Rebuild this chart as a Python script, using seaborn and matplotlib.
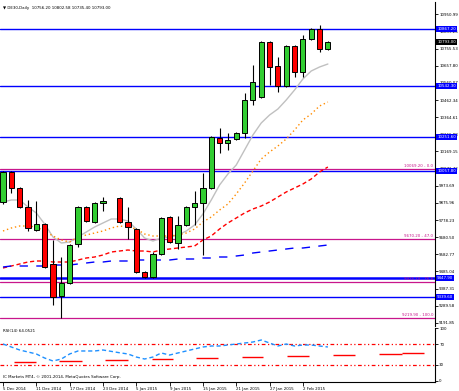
import numpy as np
import pandas as pd
import matplotlib
matplotlib.use("Agg")
import matplotlib.pyplot as plt
import seaborn as sns

sns.set_theme(style="white")
plt.rcParams['font.family'] = ['DejaVu Sans']

# ---------------- data (DE30 daily) ----------------
opens = [9881, 10052, 9961, 9853, 9722, 9756, 9528, 9345, 9419, 9642,
         9853, 9767, 9875, np.nan, 9904, 9767, 9727, 9482, 9454, 9585,
         9796, 9647, 9750, 9853, 9875, 9961, 10246, 10217, 10240, 10274,
         10462, 10480, 10793, 10656, 10542, 10770, 10622, 10810, 10867, 10753]
highs = [10058, 10058, 9967, 9892, 9887, 9762, 9664, 9568, 9642, 9858,
         9858, 9881, 9910, np.nan, 9910, 9853, 9733, 9488, 9596, 9796,
         9801, 9801, 9858, 9944, 10046, 10258, 10303, 10274, 10280, 10502,
         10662, 10799, 10799, 10708, 10776, 10776, 10833, 10873, 10890, 10799]
lows = [9870, 9932, 9847, 9716, 9716, 9505, 9294, 9220, 9413, 9625,
        9767, 9762, 9830, np.nan, 9762, 9670, 9476, 9448, 9448, 9579,
        9647, 9613, 9745, 9750, 9579, 9955, 10160, 10177, 10235, 10246,
        10434, 10474, 10548, 10508, 10536, 10594, 10594, 10805, 10736, 10747]
closes = [10052, 9961, 9853, 9733, 9756, 9511, 9340, 9419, 9636, 9853,
          9773, 9875, 9887, np.nan, 9767, 9739, 9482, 9454, 9585, 9790,
          9653, 9750, 9853, 9875, 9961, 10252, 10217, 10235, 10274, 10462,
          10565, 10793, 10651, 10542, 10770, 10622, 10810, 10867, 10753, 10793]

ma_gray = [9881.1, 9892.5, 9892.5, 9852.6, 9818.4, 9755.7, 9681.6, 9647.4, 9653.1, 9681.6,
           9710.1, 9738.6, 9761.4, 9784.2, 9784.2, 9772.8, 9727.2, 9675.9, 9658.8, 9675.9,
           9681.6, 9693.0, 9715.8, 9750.0, 9812.7, 9892.5, 9978.0, 10040.7, 10092.0, 10177.5,
           10263.0, 10331.4, 10377.0, 10411.2, 10462.5, 10519.5, 10582.2, 10627.8, 10650.6, 10667.7]
ma_orange = [9715.8, 9732.9, 9744.3, 9744.3, 9738.6, 9715.8, 9687.3, 9664.5, 9653.1, 9681.6,
             9693.0, 9704.4, 9715.8, 9732.9, 9744.3, 9738.6, 9727.2, 9698.7, 9687.3, 9687.3,
             9687.3, 9693.0, 9704.4, 9727.2, 9767.1, 9795.6, 9835.5, 9869.7, 9926.7, 9989.4,
             10057.8, 10126.2, 10166.1, 10200.3, 10240.2, 10291.5, 10348.5, 10382.7, 10428.3, 10451.1]
ma_red = [9504.9, 9516.3, 9527.7, 9539.1, 9544.8, 9544.8, 9539.1, 9539.1, 9539.1, 9550.5,
          9561.9, 9567.6, 9579.0, 9596.1, 9601.8, 9607.5, 9601.8, 9601.8, 9596.1, 9607.5,
          9613.2, 9618.9, 9624.6, 9630.3, 9664.5, 9687.3, 9727.2, 9761.4, 9789.9, 9818.4,
          9841.2, 9858.3, 9881.1, 9909.6, 9938.1, 9960.9, 9983.7, 10012.2, 10052.1, 10080.6]
ma_blue = [9510.6, 9516.3, 9516.3, 9516.3, 9516.3, 9516.3, 9522.0, 9522.0, 9522.0, 9527.7,
           9533.4, 9539.1, 9539.1, 9544.8, 9544.8, 9544.8, 9550.5, 9550.5, 9550.5, 9550.5,
           9550.5, 9556.2, 9556.2, 9556.2, 9561.9, 9561.9, 9567.6, 9567.6, 9573.3, 9579.0,
           9590.4, 9596.1, 9601.8, 9607.5, 9613.2, 9618.9, 9618.9, 9624.6, 9630.3, 9636.0]

rsi_vals = [70.0, 64.3, 58.6, 54.8, 51.0, 43.3, 37.6, 41.4, 51.0, 56.7,
            56.7, 56.7, 58.6, np.nan, 53.3, 51.0, 45.2, 41.4, 45.2, 52.9,
            49.0, 52.9, 56.7, 60.5, 64.3, 66.2, 66.2, 68.1, 70.0, 71.9,
            73.8, 77.6, 71.9, 66.2, 70.0, 66.2, 68.1, 68.1, 66.2, 64.3]
rsi_seg_start = [1.32, 6.72, 12.24, 17.88, 23.16, 28.68, 34.08, 39.6, 45.12, 47.88]
rsi_seg_end = [3.96, 9.48, 15.0, 20.4, 25.8, 31.2, 36.72, 42.24, 47.88, 50.52]
rsi_seg_val = [35.7, 37.6, 39.5, 41.4, 43.3, 45.2, 47.1, 49.0, 51.0, 52.9]
rsi_levels = [70, 30]

blue_levels = [10867.2, 10542.3, 10251.6, 10057.8, 9447.9, 9339.6]
blue_widths = [1.0, 1.0, 1.0, 1.0, 1.8, 1.0]
blue_labels = ["10867.20", "10542.30", "10251.60", "10057.80", "9447.90", "9339.60"]
fib_levels = [10069.2, 9670.2, 9425.1, 9219.9]
fib_labels = ["10069.20 - 0.0", "9670.20 - 47.0", "9425.10 - 75.8", "9219.90 - 100.0"]
last_price = 10793.0
last_label = "10793.00"

price_ticks = [9191.85, 9289.58, 9387.31, 9485.04, 9582.77, 9680.50, 9778.23, 9875.96,
               9973.69, 10071.42, 10169.15, 10266.88, 10364.61, 10462.34, 10560.07,
               10657.80, 10755.53, 10853.26, 10950.99]
date_ticks = [0, 4, 8, 12, 16, 20, 24, 28, 32, 36]
date_labels = ["5 Dec 2014", "11 Dec 2014", "17 Dec 2014", "23 Dec 2014", "5 Jan 2015",
               "9 Jan 2015", "15 Jan 2015", "21 Jan 2015", "27 Jan 2015", "2 Feb 2015"]
rsi_ticks = [100, 70, 30, 0]

title = "\u25BC DE30,Daily  10756.20 10802.58 10735.40 10793.00"
rsi_title = "RSI(14) 64.0521"
copyright_txt = "IC Markets MT4, \u00A9 2001-2014, MetaQuotes Software Corp."

# ---------------- figure ----------------
W, H = 460, 391
fig = plt.figure(figsize=(W / 100, H / 100), dpi=100)
fig.patch.set_facecolor("white")
ax = fig.add_axes([0, 1 - 326 / H, 435 / W, 324 / H])
ax_r = fig.add_axes([0, 1 - 382 / H, 435 / W, 54 / H])

df = pd.DataFrame({"i": np.arange(len(opens)), "o": opens, "h": highs, "l": lows, "c": closes,
                   "g": ma_gray, "or": ma_orange, "r": ma_red, "b": ma_blue, "rsi": rsi_vals})
FS = 2.9
GREEN, RED = "#32CD32", "#FF0000"
MAG = "#C8168C"

# horizontal levels
for lv, lw in zip(blue_levels, blue_widths):
    ax.axhline(lv, color="#0000FF", lw=lw, zorder=1)
for lv in fib_levels:
    ax.axhline(lv, color=MAG, lw=0.9, zorder=1)

# moving averages
sns.lineplot(data=df, x="i", y="g", ax=ax, color="#C0C0C0", lw=1.0, legend=False, zorder=2)
sns.lineplot(data=df, x="i", y="or", ax=ax, color="#FF8C00", lw=1.0, linestyle=(0, (1, 2)),
             legend=False, zorder=2)
sns.lineplot(data=df, x="i", y="r", ax=ax, color="#FF0000", lw=1.0, linestyle=(0, (3, 2)),
             legend=False, zorder=2)
sns.lineplot(data=df, x="i", y="b", ax=ax, color="#0000FF", lw=1.0, linestyle=(0, (6, 6)),
             legend=False, zorder=2)

# candles
cd = df.dropna(subset=["o"])
ax.vlines(cd["i"], cd["l"], cd["h"], color="black", lw=0.8, zorder=3)
up = cd[cd["c"] >= cd["o"]]
dn = cd[cd["c"] < cd["o"]]
ax.bar(up["i"], up["c"] - up["o"], bottom=up["o"], width=0.62, color=GREEN,
       edgecolor="black", linewidth=0.7, zorder=4)
ax.bar(dn["i"], dn["o"] - dn["c"], bottom=dn["c"], width=0.62, color=RED,
       edgecolor="black", linewidth=0.7, zorder=4)

ax.set_xlim(-0.36, 51.86)
ax.set_ylim(9174.3, 11021.1)
ax.set_xticks([])
ax.set_xlabel("")
ax.set_ylabel("")
for s in ["left", "top", "bottom"]:
    ax.spines[s].set_visible(False)
ax.spines["right"].set_color("black")
ax.spines["right"].set_linewidth(0.8)
ax.yaxis.tick_right()
ax.set_yticks(price_ticks)
ax.set_yticklabels([f"{v:.2f}" for v in price_ticks])
ax.tick_params(axis="y", right=True, length=2, width=0.6, labelsize=FS, pad=1, colors="black")

ytr = ax.get_yaxis_transform()
for lv, lab in zip(blue_levels, blue_labels):
    ax.text(1.005, lv, lab, transform=ytr, ha="left", va="center", fontsize=FS, color="white",
            bbox=dict(boxstyle="square,pad=0.2", fc="#0000FF", ec="none"), clip_on=False, zorder=6)
ax.text(1.005, last_price, last_label, transform=ytr, ha="left", va="center", fontsize=FS,
        color="white", bbox=dict(boxstyle="square,pad=0.2", fc="black", ec="none"),
        clip_on=False, zorder=7)
for lv, lab in zip(fib_levels, fib_labels):
    ax.text(0.996, lv + 6, lab, transform=ytr, ha="right", va="bottom", fontsize=FS, color=MAG)

ax.text(0.006, 0.981, title, transform=ax.transAxes, ha="left", va="center", fontsize=FS,
        color="black")

# RSI panel
for lv in rsi_levels:
    ax_r.axhline(lv, color="#FF0000", lw=0.9, linestyle=(0, (3, 2, 1, 2, 1, 2)), zorder=1)
ax_r.hlines(rsi_seg_val, rsi_seg_start, rsi_seg_end, color="#FF0000", lw=1.0, zorder=2)
sns.lineplot(data=df, x="i", y="rsi", ax=ax_r, color="#1E90FF", lw=1.0, linestyle=(0, (3, 2)),
             legend=False, zorder=3)
ax_r.set_xlim(-0.36, 51.86)
ax_r.set_ylim(-2.4, 100.5)
ax_r.set_xlabel("")
ax_r.set_ylabel("")
for s in ["left", "top"]:
    ax_r.spines[s].set_visible(False)
for s in ["right", "bottom"]:
    ax_r.spines[s].set_color("black")
    ax_r.spines[s].set_linewidth(0.8)
ax_r.yaxis.tick_right()
ax_r.set_yticks(rsi_ticks)
ax_r.set_yticklabels([str(v) for v in rsi_ticks])
ax_r.tick_params(axis="y", right=True, length=2, width=0.6, labelsize=FS, pad=1, colors="black")
ax_r.set_xticks(date_ticks)
ax_r.set_xticklabels(date_labels, ha="left")
ax_r.tick_params(axis="x", bottom=True, length=3, width=0.6, labelsize=FS, pad=0.5, colors="black")
ax_r.text(0.006, 0.94, rsi_title, transform=ax_r.transAxes, ha="left", va="center",
          fontsize=FS, color="black")
ax_r.text(0.006, 0.09, copyright_txt, transform=ax_r.transAxes, ha="left", va="center",
          fontsize=FS, color="black")

fig.savefig("out.png", dpi=100, facecolor="white")
